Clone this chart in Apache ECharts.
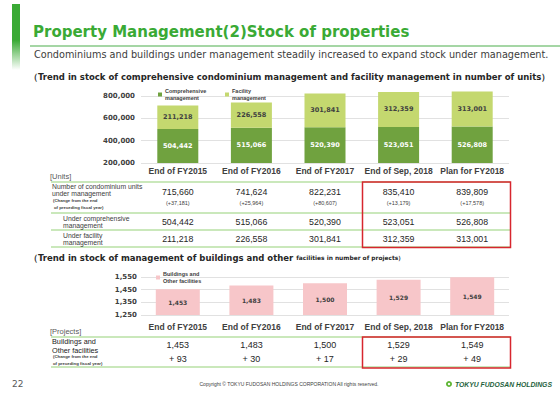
<!DOCTYPE html>
<html>
<head>
<meta charset="utf-8">
<script src="https://cdn.jsdelivr.net/npm/echarts@6/dist/echarts.min.js"></script>
<style>
  html, body { margin: 0; padding: 0; background: #fff; }
  #chart { width: 560px; height: 396px; }
</style>
</head>
<body>
<div id="chart"></div>
<script>
// data
const categories = ["End of FY2015", "End of FY2016", "End of FY2017", "End of Sep, 2018", "Plan for FY2018"];
const comprehensive = [504442, 515066, 520390, 523051, 526808];
const facility = [211218, 226558, 301841, 312359, 313001];
const totalUnits = [715660, 741624, 822231, 835410, 839809];
const totalChange = [37181, 25964, 80607, 13179, 17578];
const buildings = [1453, 1483, 1500, 1529, 1549];
const buildingsChange = [93, 30, 17, 29, 49];
const unitAxis = { min: 200000, max: 800000, interval: 200000, startValue: 200000 };
const projectAxis = { min: 1250, max: 1550, interval: 100, startValue: 1250 };

const SANS = '"Liberation Sans", Arial, sans-serif';
const WIDE = '"DejaVu Sans", Verdana, sans-serif';
const GREEN = "#3aaa35";
const LINE = "#95d178";
const TXT = "#404040";

const fmt = (v) => v.toLocaleString("en-US");

const chart = echarts.init(document.getElementById("chart"), null, { renderer: "svg" });

const xAxisBase = {
  type: "category",
  data: categories,
  axisLine: { show: false },
  axisTick: { show: false },
  axisLabel: { interval: 0, hideOverlap: false, fontFamily: SANS, fontWeight: "bold", fontSize: 8.5, color: TXT },
};
const yAxisBase = {
  type: "value",
  axisLine: { show: false },
  axisTick: { show: false },
  splitLine: { lineStyle: { color: "#d9d9d9", width: 0.8 } },
};
const legendBase = {
  icon: "rect",
  itemWidth: 4,
  itemHeight: 4,
  itemGap: 0,
  orient: "vertical",
  textStyle: { fontFamily: SANS, fontWeight: "bold", fontSize: 5.5, lineHeight: 7.5, color: TXT, padding: [0, 0, 0, -2] },
};

chart.setOption({
  animation: false,
  grid: [
    { left: 141, top: 96, width: 368, height: 67 },
    { left: 141, top: 277, width: 368, height: 38 },
  ],
  xAxis: [
    Object.assign({}, xAxisBase, { gridIndex: 0, axisLabel: Object.assign({}, xAxisBase.axisLabel, { margin: 3 }) }),
    Object.assign({}, xAxisBase, { gridIndex: 1, axisLabel: Object.assign({}, xAxisBase.axisLabel, { margin: 7 }) }),
  ],
  yAxis: [
    Object.assign({}, yAxisBase, unitAxis, {
      gridIndex: 0,
      axisLabel: { formatter: fmt, fontFamily: WIDE, fontWeight: "bold", fontSize: 7, color: TXT, margin: 6 },
    }),
    Object.assign({}, yAxisBase, projectAxis, {
      gridIndex: 1,
      axisLabel: { formatter: fmt, fontFamily: WIDE, fontWeight: "bold", fontSize: 7, color: TXT, margin: 4 },
    }),
  ],
  legend: [
    Object.assign({}, legendBase, {
      data: ["Comprehensive management"], left: 153, top: 82,
      formatter: () => "Comprehensive\nmanagement",
    }),
    Object.assign({}, legendBase, {
      data: ["Facility management"], left: 220, top: 82,
      formatter: () => "Facility\nmanagement",
    }),
    Object.assign({}, legendBase, {
      data: ["Buildings and Other facilities"], left: 151, top: 265,
      formatter: () => "Buildings and\nOther facilities",
    }),
  ],
  series: [
    {
      name: "Comprehensive management",
      type: "bar",
      stack: "units",
      barWidth: 41,
      clip: false,
      data: comprehensive,
      itemStyle: { color: "#70a23f" },
      label: { show: true, position: "inside", formatter: (p) => fmt(p.value), fontFamily: WIDE, fontWeight: "bold", fontSize: 6.5, color: "#fff" },
    },
    {
      name: "Facility management",
      type: "bar",
      stack: "units",
      barWidth: 41,
      clip: false,
      data: facility,
      itemStyle: { color: "#c4d86f" },
      label: { show: true, position: "inside", formatter: (p) => fmt(p.value), fontFamily: WIDE, fontWeight: "bold", fontSize: 6.5, color: TXT },
    },
    {
      name: "Buildings and Other facilities",
      type: "bar",
      xAxisIndex: 1,
      yAxisIndex: 1,
      barWidth: 44,
      data: buildings,
      itemStyle: { color: "#f7c6c9" },
      label: { show: true, position: "inside", formatter: (p) => fmt(p.value), fontFamily: WIDE, fontWeight: "bold", fontSize: 6, color: TXT },
    },
  ],
});

// table texts and decorations, columns follow the category axis
const colX = categories.map((c, i) => chart.convertToPixel({ xAxisIndex: 0 }, i));

function txt(x, y, text, size, opts) {
  return {
    type: "text",
    x: x,
    y: y,
    silent: true,
    style: Object.assign({
      text: text,
      fontFamily: SANS,
      fontSize: size,
      fill: TXT,
      textVerticalAlign: "middle",
    }, opts || {}),
  };
}
function hline(y, x1, x2, color, w) {
  return { type: "line", silent: true, shape: { x1: x1, y1: y, x2: x2, y2: y }, style: { stroke: color || LINE, lineWidth: w || 1.2 } };
}
function box(x, y, w, h) {
  return { type: "rect", silent: true, shape: { x: x, y: y, width: w, height: h }, style: { fill: "none", stroke: "#d7262e", lineWidth: 1.5 } };
}

const g = [];
// header band
g.push({
  type: "rect", silent: true, shape: { x: 12, y: 4, width: 8, height: 66 },
  style: { fill: new echarts.graphic.LinearGradient(0, 0, 0, 1, [
    { offset: 0, color: GREEN }, { offset: 0.55, color: GREEN }, { offset: 1, color: "rgba(58,170,53,0)" },
  ]) },
});
g.push(txt(33, 32, "Property Management(2)Stock of properties", 15, { fontFamily: WIDE, fontWeight: "bold", fill: GREEN }));
g.push(hline(46, 30, 560, "#4cae4c", 1.2));
g.push(txt(34, 54.5, "Condominiums and buildings under management steadily increased to expand stock under management.", 9.7, { fontFamily: WIDE, fill: "#3c3c3c" }));
g.push(txt(29, 77, "（Trend in stock of comprehensive condominium management and facility management in number of units）", 8.5, { fontFamily: WIDE, fontWeight: "bold", fill: "#262626" }));

// units table
g.push(txt(50, 176, "[Units]", 7.5, { fill: "#595959" }));
g.push(hline(182, 51, 510));
g.push(hline(213, 51, 510));
g.push(hline(230, 51, 510));
g.push(hline(247, 51, 510));
g.push(txt(52, 186, "Number of condominium units", 6.8));
g.push(txt(52, 193.5, "under management", 6.8));
g.push(txt(53, 200.5, "(Change from the end", 4.3, { fontWeight: "bold" }));
g.push(txt(54, 207, "of preceding fiscal year)", 4.3, { fontWeight: "bold" }));
g.push(txt(63, 218.5, "Under comprehensive", 6.8));
g.push(txt(63, 225.3, "management", 6.8));
g.push(txt(63, 235.3, "Under facility", 6.8));
g.push(txt(63, 242, "management", 6.8));
colX.forEach((x, i) => {
  g.push(txt(x, 192, fmt(totalUnits[i]), 8.8, { textAlign: "center", fill: "#262626" }));
  g.push(txt(x, 203, "(+" + fmt(totalChange[i]) + ")", 5.5, { textAlign: "center" }));
  g.push(txt(x, 221.5, fmt(comprehensive[i]), 8.8, { textAlign: "center", fill: "#262626" }));
  g.push(txt(x, 238.5, fmt(facility[i]), 8.8, { textAlign: "center", fill: "#262626" }));
});
g.push(box(362.5, 182, 148, 65.5));

// projects section
g.push({
  type: "text", x: 29, y: 258, silent: true,
  style: {
    text: "{a|（Trend in stock of management of buildings and other }{b|facilities in number of projects）}",
    textVerticalAlign: "middle",
    rich: {
      a: { fontFamily: WIDE, fontWeight: "bold", fontSize: 8.5, fill: "#262626" },
      b: { fontFamily: WIDE, fontWeight: "bold", fontSize: 5.9, fill: "#262626" },
    },
  },
});
g.push(txt(50, 331, "[Projects]", 7.5, { fill: "#595959" }));
g.push(hline(337, 51, 510));
g.push(hline(367, 51, 510));
g.push(txt(52, 341, "Buildings and", 7.3, { fill: "#1a1a1a" }));
g.push(txt(52, 350.5, "Other facilities", 7.3, { fill: "#1a1a1a" }));
g.push(txt(53, 356.5, "(Change from the end", 4.3, { fontWeight: "bold" }));
g.push(txt(53, 363, "of preceding fiscal year)", 4.3, { fontWeight: "bold" }));
colX.forEach((x, i) => {
  g.push(txt(x, 345, fmt(buildings[i]), 9, { textAlign: "center", fill: "#262626" }));
  g.push(txt(x, 359.3, "+ " + buildingsChange[i], 9, { textAlign: "center", fill: "#262626" }));
});
g.push(box(362.5, 337, 148, 31));

// footer
g.push(txt(12, 383.5, "22", 9, { fontFamily: WIDE, fill: "#595959" }));
g.push(txt(289, 384, "Copyright © TOKYU FUDOSAN HOLDINGS CORPORATION All rights reserved.", 5, { textAlign: "center" }));
g.push({ type: "circle", silent: true, shape: { cx: 449, cy: 384, r: 3 }, style: { fill: "#5cb531" } });
g.push({ type: "circle", silent: true, shape: { cx: 449, cy: 384, r: 1.2 }, style: { fill: "#fff" } });
g.push(txt(455, 384, "TOKYU FUDOSAN HOLDINGS", 6.8, { fontWeight: "bold", fontStyle: "italic", fill: "#1e5f3c" }));

chart.setOption({ graphic: g });
</script>
</body>
</html>
